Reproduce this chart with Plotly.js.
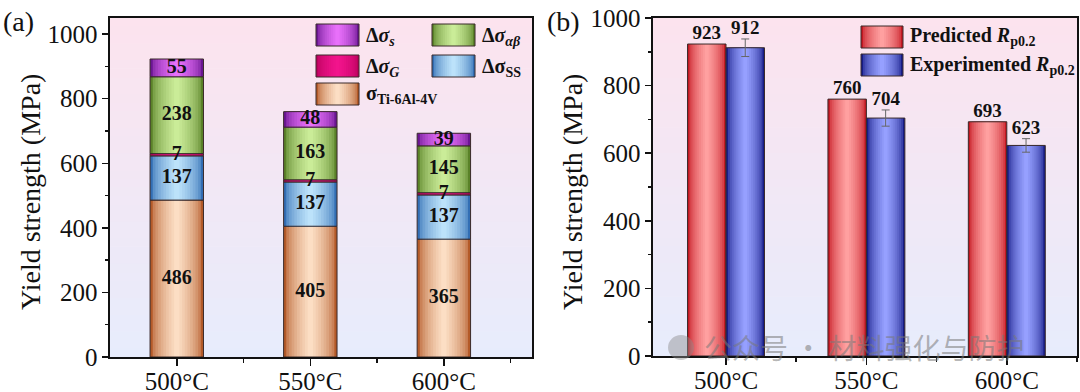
<!DOCTYPE html>
<html>
<head>
<meta charset="utf-8">
<script src="https://cdn.plot.ly/plotly-3.0.1.min.js"></script>
<style>html,body{margin:0;padding:0;background:#fff;}#chart{width:1080px;height:392px;}</style>
</head>
<body>
<div id="chart"></div>
<script>
// ---------- data ----------
const categories = ['500°C', '550°C', '600°C'];
const sigmaTi = [486, 405, 365];     // σ Ti-6Al-4V
const dSigmaSS = [137, 137, 137];    // Δσ SS
const dSigmaG = [7, 7, 7];           // Δσ G
const dSigmaAB = [238, 163, 145];    // Δσ αβ
const dSigmaS = [55, 48, 39];        // Δσ s
const predicted = [923, 760, 693];   // Predicted Rp0.2
const experimented = [912, 704, 623];// Experimented Rp0.2
const expError = [26, 24, 20];
const stackNames = ['<b>σ<sub>Ti-6Al-4V</sub></b>', '<b>Δσ<sub>SS</sub></b>', '<b>Δ<i>σ</i><sub><i>G</i></sub></b>', '<b>Δ<i>σ</i><sub><i>αβ</i></sub></b>', '<b>Δ<i>σ</i><sub><i>s</i></sub></b>'];
const compareNames = ['<b>Predicted <i>R</i><sub>p0.2</sub></b>', '<b>Experimented <i>R</i><sub>p0.2</sub></b>'];
const watermark = '公众号 · 材料强化与防护';

// ---------- styling helpers ----------
const FONT = 'Liberation Serif, Times New Roman, serif';
const N = 10;
function mix(a, b, t) { return 'rgb(' + a.map((v, i) => Math.round(v + (b[i] - v) * t)).join(',') + ')'; }
function layerT(k) { return Math.pow(k / (N - 1), 0.55); }

const stackSeries = [sigmaTi, dSigmaSS, dSigmaG, dSigmaAB, dSigmaS];
const stackColors = [
  [[180, 90, 40], [252, 222, 196]],
  [[50, 110, 180], [188, 226, 250]],
  [[185, 0, 92], [242, 20, 140]],
  [[90, 130, 40], [202, 236, 152]],
  [[106, 22, 146], [232, 112, 250]]
];
const compareColors = [
  [[196, 24, 34], [255, 160, 160]],
  [[22, 28, 135], [150, 160, 255]]
];

const xIdx = categories.map((c, i) => i);
const traces = [];

// ---------- (a) stacked bars ----------
const W1 = 0.4;
let cum = categories.map(() => 0);
const mids = [];
stackSeries.forEach((vals, s) => {
  const base = cum.slice();
  for (let k = 0; k < N; k++) {
    traces.push({
      type: 'bar', x: xIdx, y: vals, base: base, width: W1 * (1 - k / N),
      marker: { color: mix(stackColors[s][0], stackColors[s][1], layerT(k)), line: { width: 0 } },
      xaxis: 'x', yaxis: 'y', showlegend: false, hoverinfo: 'skip'
    });
  }
  traces.push({
    type: 'bar', x: xIdx, y: vals, base: base, width: W1,
    marker: { color: 'rgba(0,0,0,0)', line: { width: 1, color: '#3a2a2a' } },
    xaxis: 'x', yaxis: 'y', showlegend: false, hoverinfo: 'skip'
  });
  mids.push(vals.map((v, i) => base[i] + v / 2));
  cum = cum.map((c, i) => c + vals[i]);
});
stackSeries.forEach((vals, s) => {
  traces.push({
    type: 'scatter', mode: 'text', x: xIdx, y: mids[s], text: vals.map(String),
    textposition: 'middle center',
    textfont: { family: FONT, size: 20, color: '#111', weight: 'bold' },
    xaxis: 'x', yaxis: 'y', showlegend: false, hoverinfo: 'skip'
  });
});

// ---------- (b) grouped bars ----------
const W2 = 0.274;
const shift = [-0.137, 0.137];
[predicted, experimented].forEach((vals, s) => {
  const xs = xIdx.map(i => i + shift[s]);
  for (let k = 0; k < N; k++) {
    traces.push({
      type: 'bar', x: xs, y: vals, width: W2 * (1 - k / N),
      marker: { color: mix(compareColors[s][0], compareColors[s][1], layerT(k)), line: { width: 0 } },
      xaxis: 'x2', yaxis: 'y2', showlegend: false, hoverinfo: 'skip'
    });
  }
  const outline = {
    type: 'bar', x: xs, y: vals, width: W2,
    marker: { color: 'rgba(0,0,0,0)', line: { width: 1, color: '#3a2a2a' } },
    xaxis: 'x2', yaxis: 'y2', showlegend: false, hoverinfo: 'skip'
  };
  if (s === 1) outline.error_y = { type: 'data', array: expError, visible: true, color: '#666', thickness: 1, width: 4 };
  traces.push(outline);
  traces.push({
    type: 'scatter', mode: 'text', x: xs,
    y: vals.map((v, i) => v + (s === 1 ? expError[i] : 0)),
    text: vals.map(String), textposition: 'top center',
    textfont: { family: FONT, size: 19, color: '#111', weight: 'bold' },
    xaxis: 'x2', yaxis: 'y2', showlegend: false, hoverinfo: 'skip'
  });
});

// ---------- layout ----------
const PW = 1080, PH = 392;
const px = v => v / PW, py = v => 1 - v / PH;
const shapes = [];
const annotations = [];

// gradient plot backgrounds
const BANDS = 40;
const bgTop = [252, 227, 238], bgBot = [231, 236, 252];
['x', 'x2'].forEach((xa, j) => {
  const ya = j === 0 ? 'y' : 'y2';
  for (let b = 0; b < BANDS; b++) {
    shapes.push({
      type: 'rect', xref: xa + ' domain', yref: ya + ' domain', layer: 'below',
      x0: 0, x1: 1, y0: b / BANDS, y1: (b + 1) / BANDS + 0.002,
      fillcolor: mix(bgBot, bgTop, b / (BANDS - 1)), line: { width: 0 }
    });
  }
});

// custom legends with gradient swatches
function swatch(x0, y0, x1, y1, cols) {
  const cx = (x0 + x1) / 2, hw = (x1 - x0) / 2;
  for (let k = 0; k < N; k++) {
    const w = hw * (1 - k / N);
    shapes.push({ type: 'rect', xref: 'paper', yref: 'paper', layer: 'above',
      x0: px(cx - w), x1: px(cx + w), y0: py(y1), y1: py(y0),
      fillcolor: mix(cols[0], cols[1], layerT(k)), line: { width: 0 } });
  }
  shapes.push({ type: 'rect', xref: 'paper', yref: 'paper', layer: 'above',
    x0: px(x0), x1: px(x1), y0: py(y1), y1: py(y0),
    fillcolor: 'rgba(0,0,0,0)', line: { width: 1, color: '#3a2a2a' } });
}
function legendText(x, y, txt) {
  annotations.push({ xref: 'paper', yref: 'paper', x: px(x), y: py(y), xanchor: 'left', yanchor: 'middle',
    text: txt, showarrow: false, font: { family: FONT, size: 20, color: '#111' } });
}
// order on the chart: s, αβ / G, SS / Ti
const legA = [
  { s: 4, x: 316, y: 24 }, { s: 3, x: 432, y: 24 },
  { s: 2, x: 316, y: 55 }, { s: 1, x: 432, y: 55 },
  { s: 0, x: 316, y: 83 }
];
legA.forEach(e => {
  swatch(e.x, e.y, e.x + 43, e.y + 22, stackColors[e.s]);
  legendText(e.x + 48, e.y + 12, stackNames[e.s]);
});
[0, 1].forEach(s => {
  const y = s === 0 ? 26 : 54;
  swatch(861, y, 903, y + 22, compareColors[s]);
  legendText(908, y + 11, compareNames[s]);
});

// panel letters, axis titles, watermark
annotations.push({ xref: 'paper', yref: 'paper', x: px(1), y: py(21), xanchor: 'left', yanchor: 'middle',
  text: '(a)', showarrow: false, font: { family: FONT, size: 28, color: '#111' } });
annotations.push({ xref: 'paper', yref: 'paper', x: px(545), y: py(21), xanchor: 'left', yanchor: 'middle',
  text: '(b)', showarrow: false, font: { family: FONT, size: 28, color: '#111' } });
[30, 572].forEach(xc => {
  annotations.push({ xref: 'paper', yref: 'paper', x: px(xc), y: py(192), xanchor: 'center', yanchor: 'middle',
    text: 'Yield strength (MPa)', textangle: -90, showarrow: false, font: { family: FONT, size: 28, color: '#111' } });
});
annotations.push({ xref: 'paper', yref: 'paper', x: px(703), y: py(347), xanchor: 'left', yanchor: 'middle',
  text: watermark, showarrow: false, borderpad: 0, font: { family: 'Noto Sans CJK SC', size: 28, color: 'rgba(120,120,120,0.55)' } });
shapes.push({ type: 'circle', xref: 'paper', yref: 'paper', layer: 'above',
  x0: px(668), x1: px(694), y0: py(360), y1: py(335), fillcolor: 'rgba(140,140,140,0.45)', line: { width: 0 } });

function xAxis(domain, range) {
  return {
    domain: domain, range: range, type: 'linear', tickmode: 'array', tickvals: xIdx, ticktext: categories,
    ticks: 'outside', ticklen: 7, tickwidth: 1.5, tickcolor: '#111', ticklabelstandoff: -6,
    minor: { tickmode: 'array', tickvals: [0.5, 1.5, 2.5], ticks: 'outside', ticklen: 4, tickwidth: 1.5, tickcolor: '#111' },
    showline: true, linewidth: 1.6, linecolor: '#111', mirror: true, showgrid: false, zeroline: false,
    tickfont: { family: FONT, size: 25, color: '#111' }, automargin: false, fixedrange: true
  };
}
function yAxis(domain, range, anchor) {
  return {
    domain: domain, range: range, anchor: anchor, tickmode: 'linear', tick0: 0, dtick: 200,
    ticks: 'outside', ticklen: 6, tickwidth: 1.5, tickcolor: '#111',
    minor: { tickmode: 'linear', tick0: 0, dtick: 100, ticks: 'outside', ticklen: 3, tickwidth: 1.5, tickcolor: '#111' },
    showline: true, linewidth: 1.6, linecolor: '#111', mirror: true, showgrid: false, zeroline: false,
    tickfont: { family: FONT, size: 25, color: '#111' }, automargin: false, fixedrange: true
  };
}

const xa = xAxis([px(110), px(532)], [-0.5, 2.66]); xa.anchor = 'y';
const xb = xAxis([px(653), px(1077)], [-0.52, 2.5]); xb.anchor = 'y2';

const layout = {
  width: PW, height: PH,
  margin: { l: 0, r: 0, t: 0, b: 0, pad: 0 },
  paper_bgcolor: '#ffffff', plot_bgcolor: 'rgba(0,0,0,0)',
  barmode: 'overlay', showlegend: false,
  xaxis: xa,
  yaxis: yAxis([1 - 357 / PH, 1 - 18 / PH], [0, 1050], 'x'),
  xaxis2: xb,
  yaxis2: yAxis([1 - 356 / PH, 1 - 18 / PH], [0, 1000], 'x2'),
  shapes: shapes, annotations: annotations,
  font: { family: FONT, color: '#111' }
};

Plotly.newPlot('chart', traces, layout, { displayModeBar: false, staticPlot: true });
</script>
</body>
</html>
